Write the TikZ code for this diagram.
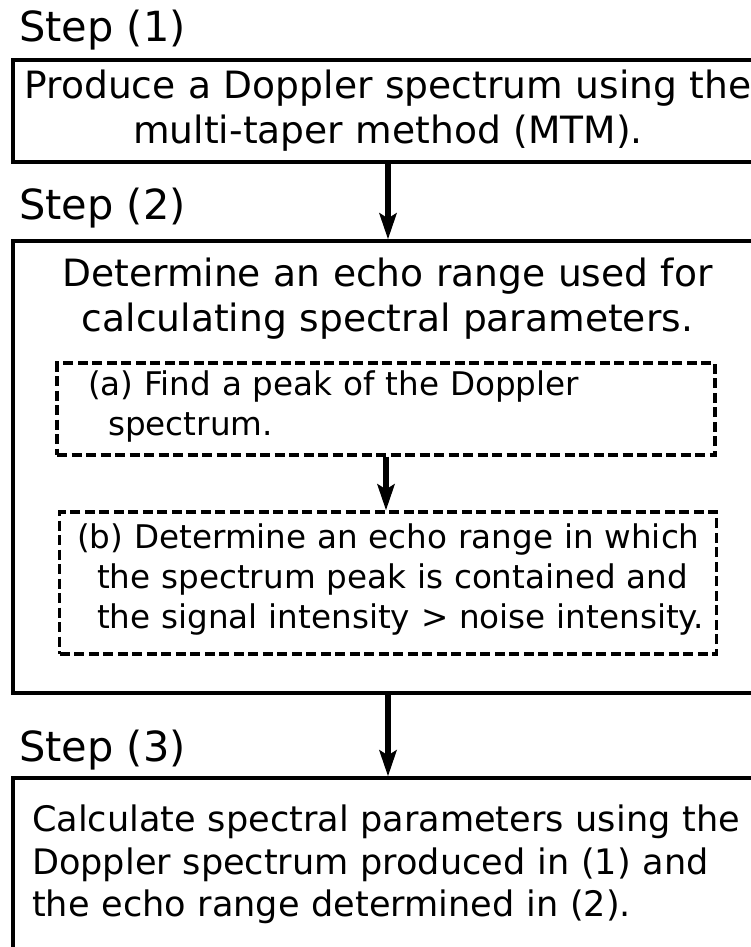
\documentclass[tikz,border=0pt]{standalone}
\usepackage{fontspec}
\setmainfont{DejaVu Sans}
\usetikzlibrary{arrows.meta}
\newcommand{\steptxt}{\fontsize{41.5}{48}\selectfont}
\newcommand{\bigtxt}{\fontsize{37.6}{45.3}\selectfont}
\newcommand{\midtxt}{\fontsize{35.1}{42.5}\selectfont}
\newcommand{\smalltxt}{\fontsize{32.6}{40}\selectfont}
\begin{document}
\begin{tikzpicture}[x=1pt,y=-1pt,
  box/.style={draw, line width=3.2pt, minimum width=750pt, inner sep=0pt},
  dbox/.style={draw, line width=3.2pt, dash pattern=on 10pt off 4.5pt, inner sep=0pt},
  lbl/.style={inner sep=0pt, font=\steptxt},
  txt/.style={inner sep=0pt},
  arr/.style={line width=6.5pt, -{Stealth[length=26pt,width=17pt,inset=5pt]}}
]
\clip (0,0) rectangle (751,947);
\useasboundingbox (0,0) rectangle (751,947);

% Step 1
\node[lbl, anchor=base west] (s1) at (19,41.7) {Step (1)};
\node[box, minimum height=102pt] (b1) at (388,111) {};
\node[txt, font=\bigtxt, text width=740pt, align=center, anchor=base] (t1) at (388,98.3)
  {Produce a Doppler spectrum using the\\multi-taper method (MTM).};

% Step 2
\node[lbl, anchor=base west] (s2) at (19,219) {Step (2)};
\node[box, minimum height=452pt] (b2) at (388,467) {};
\node[txt, font=\bigtxt, text width=740pt, align=center, anchor=base] (t2) at (387.5,286)
  {Determine an echo range used for\\calculating spectral parameters.};

\node[dbox, minimum width=658pt, minimum height=92pt] (da) at (386,409) {};
\node[txt, font=\smalltxt, text width=600pt, align=left, anchor=base west] (ta) at (88,395.7)
  {(a) Find a peak of the Doppler\\\hspace*{20pt}spectrum.};

\node[dbox, minimum width=657pt, minimum height=142pt] (db) at (388.3,583) {};
\node[txt, font=\smalltxt, text width=630pt, align=left, anchor=base west] (tb) at (77,548.3)
  {(b) Determine an echo range in which\\\hspace*{20pt}the spectrum peak is contained and\\\hspace*{20pt}the signal intensity > noise intensity.};

% Step 3
\node[lbl, anchor=base west] (s3) at (19,761.7) {Step (3)};
\node[box, minimum height=250pt] (b3) at (388,903) {};
\node[txt, font=\midtxt, text width=720pt, align=left, anchor=base west] (t3) at (32,831.7)
  {Calculate spectral parameters using the\\Doppler spectrum produced in (1) and\\the echo range determined in (2).};

% connectors
\draw[arr] (b1.south) -- (b2.north);
\draw[arr] (da.south) -- (da.south |- db.north);
\draw[arr] (b2.south) -- (b3.north);
\end{tikzpicture}
\end{document}
